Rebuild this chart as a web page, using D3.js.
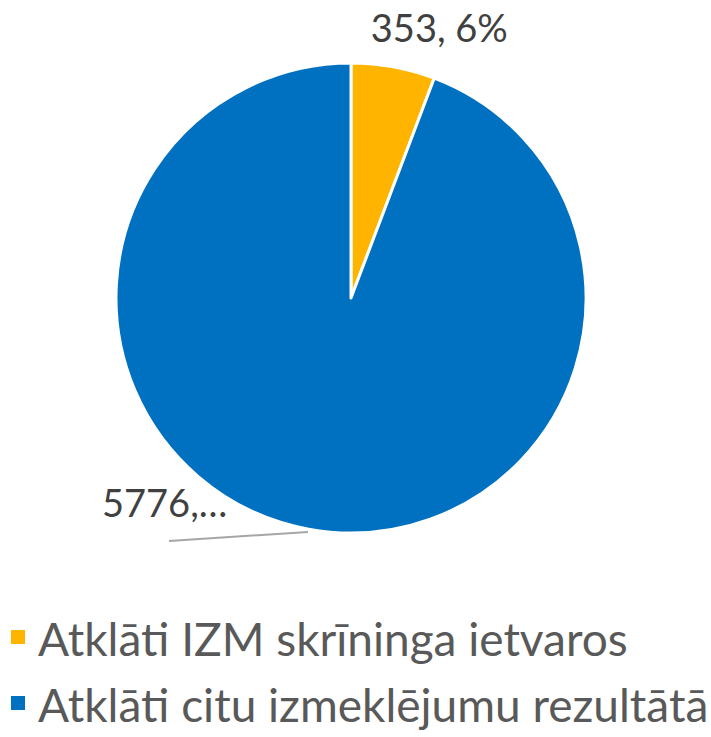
<!DOCTYPE html>
<html>
<head>
<meta charset="utf-8">
<script src="https://cdn.jsdelivr.net/npm/d3@7"></script>
<style>
  body { margin: 0; background: #fff; }
</style>
</head>
<body>
<script>
var w = 711;
var h = 737;

// data
var categories = ["Atklāti IZM skrīninga ietvaros", "Atklāti citu izmeklējumu rezultātā"];
var values = [353, 5776];
var labels = ["353, 6%", "5776,…"];
var colors = ["#FFB500", "#0070C0"];

var cx = 351, cy = 298, r = 235;
var font = "Lato, 'Open Sans', sans-serif";

var svg = d3.select("body").append("svg")
            .attr("width", w)
            .attr("height", h);

var pie = d3.pie().sort(null).value(function(d){ return d; });
var arcs = pie(values);
var arc = d3.arc().innerRadius(0).outerRadius(r);

var g = svg.append("g").attr("transform", "translate(" + cx + "," + cy + ")");

g.selectAll("path")
 .data(arcs)
 .enter()
 .append("path")
 .attr("d", arc)
 .attr("fill", function(d, i){ return colors[i]; })
 .attr("stroke", "#fff")
 .attr("stroke-width", 3)
 .attr("stroke-linejoin", "round");

// data labels
// small slice: label above the slice, outside the pie
var a0 = (arcs[0].startAngle + arcs[0].endAngle) / 2;
svg.append("text")
   .text(labels[0])
   .attr("x", cx + Math.sin(a0) * r + 46)
   .attr("y", 42)
   .attr("font-family", font)
   .attr("font-size", "38px")
   .attr("fill", "#404040")
   .attr("text-anchor", "middle");

// big slice: label lower left with leader line
svg.append("line")
   .attr("x1", 308)
   .attr("y1", 532)
   .attr("x2", 169)
   .attr("y2", 541)
   .attr("stroke", "#a6a6a6")
   .attr("stroke-width", 2);

svg.append("text")
   .text(labels[1])
   .attr("x", 102)
   .attr("y", 517)
   .attr("font-family", font)
   .attr("font-size", "38px")
   .attr("fill", "#404040");

// legend
var leg = svg.selectAll("g.leg")
   .data(categories)
   .enter()
   .append("g")
   .attr("class", "leg")
   .attr("transform", function(d, i){ return "translate(0," + (656 + i * 66) + ")"; });

leg.append("rect")
   .attr("x", 11)
   .attr("y", -26)
   .attr("width", 14)
   .attr("height", 14)
   .attr("fill", function(d, i){ return colors[i]; });

leg.append("text")
   .text(function(d){ return d; })
   .attr("x", 38)
   .attr("y", 0)
   .attr("font-family", font)
   .attr("font-size", "46px")
   .attr("fill", "#595959");
</script>
</body>
</html>
